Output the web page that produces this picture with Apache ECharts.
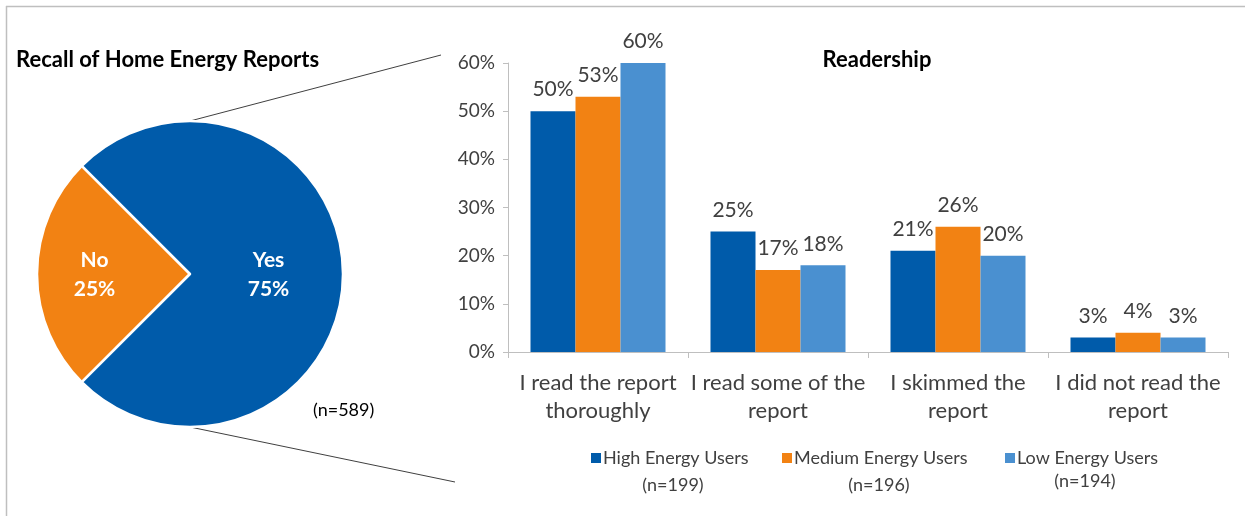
<!DOCTYPE html>
<html>
<head>
<meta charset="utf-8">
<script src="https://cdn.jsdelivr.net/npm/echarts@6/dist/echarts.min.js"></script>
<style>
  html, body { margin: 0; padding: 0; background: #ffffff; }
  #chart { width: 1245px; height: 516px; }
</style>
</head>
<body>
<div id="chart"></div>
<script>
// Recall of the reports (pie)
const recallNames = ['No', 'Yes'];
const recallValues = [25, 75];
const recallN = '(n=589)';

// Readership by usage group (grouped bars)
const categories = [
  'I read the report\nthoroughly',
  'I read some of the\nreport',
  'I skimmed the\nreport',
  'I did not read the\nreport'
];
const seriesNames = ['High Energy Users', 'Medium Energy Users', 'Low Energy Users'];
const seriesN = ['(n=199)', '(n=196)', '(n=194)'];
const highValues = [50, 25, 21, 3];
const mediumValues = [53, 17, 26, 4];
const lowValues = [60, 18, 20, 3];
const yTicks = [0, 10, 20, 30, 40, 50, 60];

const colors = ['#005BAA', '#F28213', '#4A90D0'];
const FONT = 'Lato';
const textGray = '#404040';

const chart = echarts.init(document.getElementById('chart'), null, { renderer: 'canvas' });

const barValues = [highValues, mediumValues, lowValues];

const option = {
  animation: false,
  backgroundColor: '#ffffff',
  title: [
    {
      text: 'Recall of Home Energy Reports',
      left: 16, top: 49, padding: 0,
      textStyle: { fontFamily: FONT, fontWeight: 'bold', fontSize: 22, color: '#000000' }
    },
    {
      text: 'Readership',
      left: 877, top: 49, padding: 0, textAlign: 'center',
      textStyle: { fontFamily: FONT, fontWeight: 'bold', fontSize: 22, color: '#000000' }
    }
  ],
  legend: seriesNames.map((name, i) => ({
    data: [name],
    left: [586, 777, 1000][i],
    top: 444,
    icon: 'rect',
    itemWidth: 10,
    itemHeight: 10,
    selectedMode: false,
    textStyle: { fontFamily: FONT, fontSize: 18, color: textGray, padding: [0, 0, 0, -3] }
  })),
  grid: {
    left: 508, right: 17, top: 63, bottom: 164,
    containLabel: false
  },
  xAxis: {
    type: 'category',
    data: categories,
    axisLine: { lineStyle: { color: '#BFBFBF', width: 1 } },
    axisTick: { show: true, length: 6, lineStyle: { color: '#BFBFBF' } },
    axisLabel: {
      fontFamily: FONT, fontSize: 22, color: textGray,
      margin: 17, lineHeight: 28, interval: 0
    }
  },
  yAxis: {
    type: 'value',
    min: yTicks[0],
    max: yTicks[yTicks.length - 1],
    interval: 10,
    axisLine: { show: true, lineStyle: { color: '#BFBFBF', width: 1 } },
    axisTick: { show: true, length: 5, lineStyle: { color: '#BFBFBF' } },
    splitLine: { show: false },
    axisLabel: {
      fontFamily: FONT, fontSize: 19, color: textGray, margin: 13,
      formatter: v => v + '%'
    }
  },
  series: [
    {
      type: 'pie',
      center: [190, 274],
      radius: 153,
      startAngle: 225,
      clockwise: true,
      avoidLabelOverlap: false,
      silent: true,
      itemStyle: { borderColor: '#ffffff', borderWidth: 2.5 },
      label: {
        position: 'inner',
        formatter: p => p.name + '\n' + p.value + '%',
        fontFamily: FONT, fontWeight: 'bold', fontSize: 21,
        color: '#ffffff', lineHeight: 29
      },
      labelLine: { show: false },
      data: recallNames.map((n, i) => ({
        name: n,
        value: recallValues[i],
        itemStyle: { color: i === 0 ? colors[1] : colors[0] },
        label: i === 0 ? { offset: [-16, 1] } : { offset: [-1, 1] }
      }))
    },
    ...seriesNames.map((name, i) => ({
      type: 'bar',
      name: name,
      data: barValues[i],
      barGap: '0%',
      barCategoryGap: '25%',
      itemStyle: { color: colors[i] },
      label: {
        show: true,
        position: 'top',
        distance: 11,
        formatter: p => p.value + '%',
        fontFamily: FONT, fontSize: 21, color: textGray
      }
    }))
  ],
  graphic: [
    // frame edges
    { type: 'line', shape: { x1: 6, y1: 6.5, x2: 1245, y2: 6.5 }, style: { stroke: '#BFBFBF', lineWidth: 1.5 }, silent: true },
    { type: 'line', shape: { x1: 6.5, y1: 6, x2: 6.5, y2: 516 }, style: { stroke: '#BFBFBF', lineWidth: 1.5 }, silent: true },
    // callout lines from the pie to the bar panel
    { type: 'line', shape: { x1: 190, y1: 121, x2: 441, y2: 55 }, style: { stroke: '#404040', lineWidth: 1 }, silent: true },
    { type: 'line', shape: { x1: 190, y1: 427, x2: 455, y2: 482 }, style: { stroke: '#404040', lineWidth: 1 }, silent: true },
    {
      type: 'text', x: 313, y: 401,
      style: { text: recallN, fontFamily: FONT, fontSize: 18, fill: '#000000' }
    },
    ...seriesN.map((t, i) => ({
      type: 'text',
      x: [673, 879, 1085][i],
      y: [476, 476, 472][i],
      style: { text: t, fontFamily: FONT, fontSize: 18, fill: textGray, textAlign: 'center' }
    }))
  ]
};

chart.setOption(option);
</script>
</body>
</html>
